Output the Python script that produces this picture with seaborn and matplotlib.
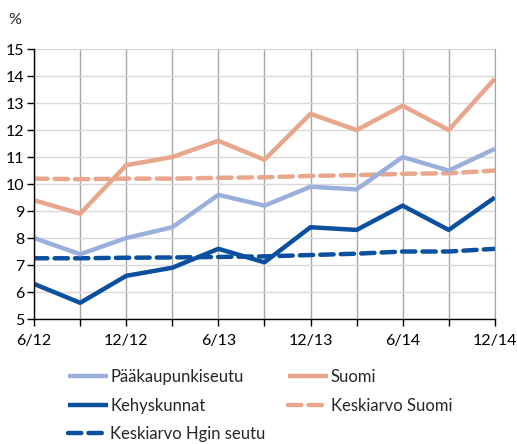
import matplotlib
matplotlib.use("Agg")
import matplotlib.pyplot as plt
import seaborn as sns
import pandas as pd

# Quarterly data 6/12 .. 12/14
quarters = ["6/12", "9/12", "12/12", "3/13", "6/13", "9/13",
            "12/13", "3/14", "6/14", "9/14", "12/14"]
paakaupunkiseutu = [8.0, 7.4, 8.0, 8.4, 9.6, 9.2, 9.9, 9.8, 11.0, 10.5, 11.3]
suomi = [9.4, 8.9, 10.7, 11.0, 11.6, 10.9, 12.6, 12.0, 12.9, 12.0, 13.9]
kehyskunnat = [6.3, 5.6, 6.6, 6.9, 7.6, 7.1, 8.4, 8.3, 9.2, 8.3, 9.5]
keskiarvo_suomi = [10.2, 10.18, 10.2, 10.2, 10.23, 10.25, 10.3, 10.33, 10.38, 10.4, 10.5]
keskiarvo_hgin = [7.25, 7.25, 7.27, 7.28, 7.3, 7.32, 7.37, 7.42, 7.5, 7.5, 7.6]

c_light = "#9bafdc"
c_salmon = "#e8a68c"
c_dark = "#0b4f9f"

sns.set_style("white")
plt.rcParams["font.family"] = ["Lato", "DejaVu Sans"]

fig = plt.figure(figsize=(5.17, 4.44), dpi=100)
ax = fig.add_axes([0.066, 0.2815, 0.891, 0.608])

x = list(range(len(quarters)))
series = [
    ("Pääkaupunkiseutu", paakaupunkiseutu, c_light, "-"),
    ("Kehyskunnat", kehyskunnat, c_dark, "-"),
    ("Keskiarvo Hgin seutu", keskiarvo_hgin, c_dark, "--"),
    ("Suomi", suomi, c_salmon, "-"),
    ("Keskiarvo Suomi", keskiarvo_suomi, c_salmon, "--"),
]
draw_order = [4, 2, 3, 0, 1]
lines = {}
for i in draw_order:
    name, vals, col, ls = series[i]
    sns.lineplot(x=x, y=vals, ax=ax, color=col, linewidth=3.2, label=name)
    ln = ax.get_lines()[-1]
    ln.set_solid_capstyle("butt")
    if ls == "--":
        ln.set_dashes((3.0, 1.6))
        ln.set_dash_capstyle("round")
    lines[name] = ln

ax.set_xlim(0, 10)
ax.set_ylim(5, 15)
ax.set_yticks(range(5, 16))
ax.set_xticks(x)
ax.set_xticklabels([q if i % 2 == 0 else "" for i, q in enumerate(quarters)])
ax.tick_params(axis="both", labelsize=11.5, colors="black", length=5, width=1,
               direction="out", bottom=True, left=True)
ax.tick_params(axis="x", pad=6)
ax.tick_params(axis="y", pad=2)

ax.grid(axis="y", color="#d9d9d9", linewidth=1)
ax.grid(axis="x", color="#a6a6a6", linewidth=1)
ax.set_axisbelow(True)
ax.spines["top"].set_visible(False)
ax.spines["right"].set_color("#a6a6a6")
ax.spines["left"].set_color("black")
ax.spines["bottom"].set_color("black")
ax.spines["left"].set_linewidth(1)
ax.spines["bottom"].set_linewidth(1)
ax.set_xlabel("")
ax.set_ylabel("")

fig.text(0.016, 0.955, "%", fontsize=11.5, ha="left", va="center")

order = ["Pääkaupunkiseutu", "Kehyskunnat", "Keskiarvo Hgin seutu", "Suomi", "Keskiarvo Suomi"]
ax.legend([lines[n] for n in order], order, ncol=2, frameon=False,
          loc="upper left", bbox_to_anchor=(0.055, -0.155),
          fontsize=12, handlelength=2.4, handletextpad=0.15,
          columnspacing=1.35, labelspacing=0.75, borderpad=0)

fig.savefig("out.png", dpi=100)
